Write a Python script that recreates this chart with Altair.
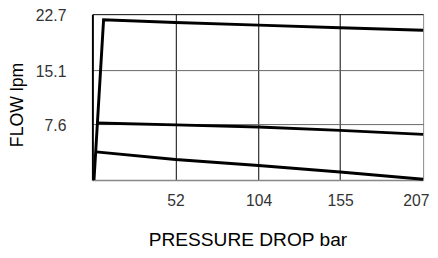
import altair as alt
import pandas as pd

x_ticks = [52, 104, 155, 207]
y_ticks = [7.6, 15.1, 22.7]

s1_x = [1.0, 7.0, 52, 104, 155, 207]
s1_y = [0.0, 21.95, 21.55, 21.2, 20.85, 20.5]
s2_x = [3.1, 52, 104, 155, 207]
s2_y = [7.8, 7.55, 7.25, 6.8, 6.25]
s3_x = [2.3, 52, 104, 155, 207]
s3_y = [3.85, 2.82, 2.0, 1.1, 0.1]

rows = []
for name, xs, ys in [("a", s1_x, s1_y), ("b", s2_x, s2_y), ("c", s3_x, s3_y)]:
    for i, (xv, yv) in enumerate(zip(xs, ys)):
        rows.append({"s": name, "i": i, "p": xv, "f": yv})
df = pd.DataFrame(rows)

FONT = "Liberation Sans"

x_axis = alt.Axis(
    values=x_ticks, title="PRESSURE DROP bar", grid=True, format="d",
    gridColor={"condition": {"test": "datum.value == 207", "value": "#888888"}, "value": "#000000"},
    gridWidth=1, ticks=False, tickSize=0, domainColor="#888888", domainWidth=1.5,
    labelFont=FONT, labelFontSize=16, labelColor="#333333", labelPadding=13,
    labelBaseline="top", labelFlush=True, labelFlushOffset=6, labelOverlap=False,
    titleFont=FONT, titleFontSize=19.5, titleFontWeight="normal", titleColor="#000000",
    titleX=158, titleY=67, titleBaseline="alphabetic", titleAlign="center",
)
y_axis = alt.Axis(
    values=y_ticks, title="FLOW lpm", grid=True, format=".1f",
    gridColor={"condition": {"test": "datum.value == 22.7", "value": "#000000"}, "value": "#666666"},
    gridWidth=1, ticks=False, tickSize=0, domainColor="#000000", domainWidth=2,
    labelFont=FONT, labelFontSize=16, labelColor="#333333", labelPadding=27,
    labelOverlap=False, labelOffset=1.5,
    titleFont=FONT, titleFontSize=18, titleFontWeight="normal", titleColor="#000000",
    titleX=-76, titleY=92, titleBaseline="middle", titleAlign="center", titleAngle=270,
)

chart = alt.Chart(df).mark_line(color="black", strokeWidth=3).encode(
    x=alt.X("p:Q", scale=alt.Scale(domain=[0, 207], nice=False, zero=True), axis=x_axis),
    y=alt.Y("f:Q", scale=alt.Scale(domain=[0, 22.7], nice=False, zero=True), axis=y_axis),
    detail="s:N",
    order="i:Q",
).properties(
    width=337, height=169,
    autosize=alt.AutoSizeParams(type="none"),
    padding={"left": 86, "top": 4, "right": 7, "bottom": 69},
).configure_view(stroke=None)

chart.save("out.html", embed_options={"renderer": "svg", "actions": False})
